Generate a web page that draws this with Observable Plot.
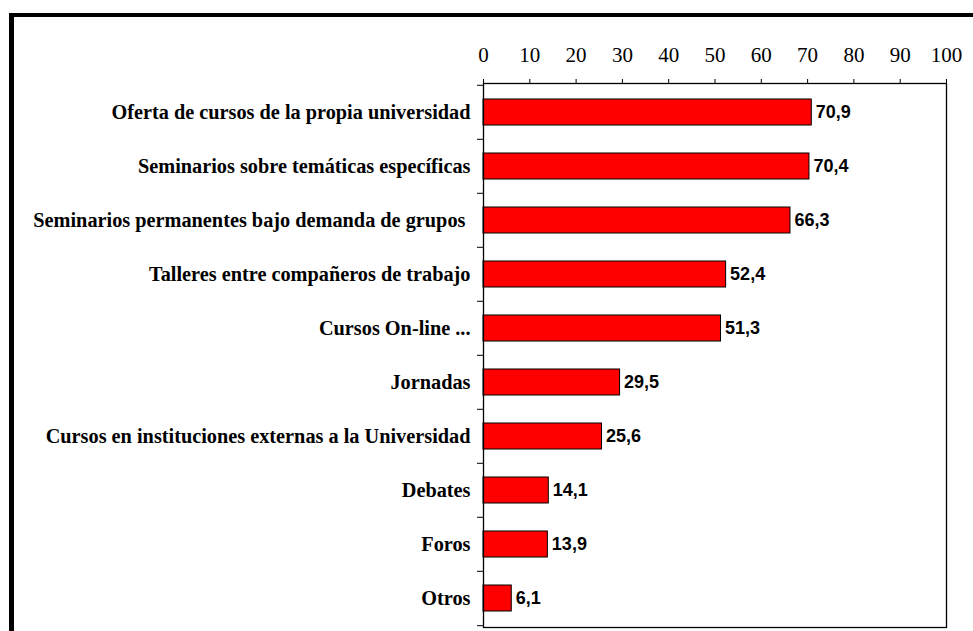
<!DOCTYPE html>
<html><head><meta charset="utf-8">
<script src="https://cdn.jsdelivr.net/npm/d3@7"></script>
<script src="https://cdn.jsdelivr.net/npm/@observablehq/plot@0.6"></script>
<style>
body{margin:0;background:#fff;}
#wrap{position:relative;width:973px;height:631px;overflow:hidden;}
#border{position:absolute;left:9px;top:13px;right:-10px;bottom:-10px;border-top:4.5px solid #000;border-left:5px solid #000;pointer-events:none;}
</style>
</head><body>
<div id="wrap"><div id="border"></div></div>
<script>
const categories = [
  "Oferta de cursos de la propia universidad",
  "Seminarios sobre temáticas específicas",
  "Seminarios permanentes bajo demanda de grupos\u00a0",
  "Talleres entre compañeros de trabajo",
  "Cursos On-line ...",
  "Jornadas",
  "Cursos en instituciones externas a la Universidad",
  "Debates",
  "Foros",
  "Otros"
];
const values = [70.9, 70.4, 66.3, 52.4, 51.3, 29.5, 25.6, 14.1, 13.9, 6.1];
const xTicks = [0, 10, 20, 30, 40, 50, 60, 70, 80, 90, 100];

const data = categories.map((c, i) => ({label: c, value: values[i]}));
const serif = "'Liberation Serif', 'Times New Roman', serif";
const sans = "'Liberation Sans', Arial, sans-serif";

const H = 631, mt = 83, mb = 4;
const step = (H - mt - mb) / categories.length;

const chart = Plot.plot({
  width: 973,
  height: H,
  marginTop: mt,
  marginBottom: mb,
  marginLeft: 483,
  marginRight: 27,
  style: {background: "transparent", color: "#000", fontSize: "16px"},
  x: {domain: [0, 100]},
  y: {domain: categories, paddingInner: 0.52, paddingOuter: 0.26},
  marks: [
    Plot.barX(data, {x: "value", y: "label", fill: "#ff0000", stroke: "#000", strokeWidth: 1}),
    Plot.frame({stroke: "#000", strokeWidth: 1.3}),
    Plot.axisX({anchor: "top", ticks: xTicks, tickSize: 5, tickPadding: 17, fontSize: 21, fontFamily: serif, tickFormat: d => String(d), label: null}),
    Plot.axisY({anchor: "left", tickSize: 0, tickPadding: 13, fontSize: 20.3, fontWeight: "bold", fontFamily: serif, label: null}),
    Plot.axisY({anchor: "left", tickSize: 6, text: null, dy: -step / 2, label: null}),
    Plot.axisY({anchor: "left", ticks: [categories[categories.length - 1]], tickSize: 6, text: null, dy: step / 2, label: null}),
    Plot.text(data, {x: "value", y: "label", text: d => d.value.toFixed(1).replace(".", ","), dx: 4, textAnchor: "start", fontSize: 18, fontWeight: "bold", fontFamily: sans, fill: "#000"})
  ]
});
document.getElementById("wrap").prepend(chart);
</script>
</body></html>
